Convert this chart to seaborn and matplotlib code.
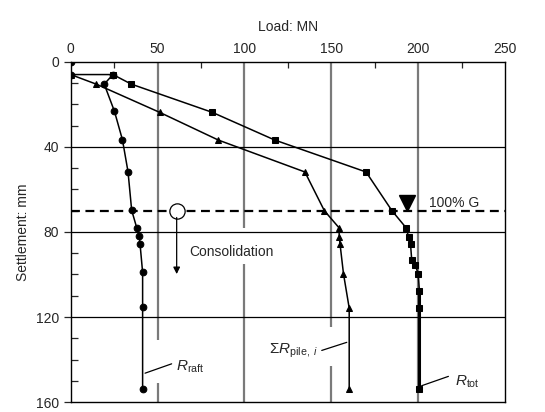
import matplotlib
matplotlib.use("Agg")
import matplotlib.pyplot as plt
import seaborn as sns

# load (MN) vs settlement (mm)
raft_load = [0, 0, 24.3, 19.3, 25.2, 29.8, 33.0, 35.1, 38.0, 39.5, 39.9, 41.4, 41.4, 41.4]
raft_settle = [0, 6, 6, 10.5, 23.3, 36.7, 51.7, 69.8, 78.0, 82.0, 85.5, 99.0, 115.5, 153.9]

pile_load = [0, 14.7, 51.3, 85.0, 134.8, 146.0, 154.4, 154.6, 155.0, 157.0, 160.3, 160.3]
pile_settle = [6, 10.5, 23.8, 36.8, 51.8, 70.0, 78.0, 82.5, 85.5, 99.6, 115.8, 153.9]

tot_load = [24.3, 34.9, 81.6, 117.5, 170.0, 184.9, 193.0, 194.6, 195.6, 196.3, 198.3, 200.0, 200.7, 200.7, 200.7]
tot_settle = [6, 10.5, 23.8, 36.8, 51.8, 70.0, 78.0, 82.6, 85.8, 93.4, 95.6, 99.6, 107.7, 115.6, 153.9]

x_ticks = [0, 50, 100, 150, 200, 250]
y_ticks = [0, 40, 80, 120, 160]

sns.set_style("white")
plt.rcParams["font.family"] = ["Liberation Sans", "DejaVu Sans"]
plt.rcParams["mathtext.fontset"] = "custom"
plt.rcParams["mathtext.rm"] = "Liberation Sans"
plt.rcParams["mathtext.it"] = "Liberation Sans:italic"

fig = plt.figure(figsize=(5.45, 4.12), dpi=100)
ax = fig.add_axes([0.1297, 0.024, 0.797, 0.826])

# grid: gray verticals (with gaps around labels), black horizontals
gray = "#7a7a7a"
ax.vlines(50, 0, 130.7, color=gray, lw=1.6, zorder=1)
ax.vlines(50, 151, 160, color=gray, lw=1.6, zorder=1)
ax.vlines(100, 0, 78.2, color=gray, lw=1.6, zorder=1)
ax.vlines(100, 94.9, 160, color=gray, lw=1.6, zorder=1)
ax.vlines(150, 0, 124.9, color=gray, lw=1.6, zorder=1)
ax.vlines(150, 143.2, 160, color=gray, lw=1.6, zorder=1)
ax.vlines(200, 0, 160, color=gray, lw=1.6, zorder=1)
ax.hlines([40, 80, 120], 0, 250, color="black", lw=0.9, zorder=1)
ax.hlines(70, 0, 250, color="black", lw=1.6, linestyles=(0, (4, 2.5)), zorder=2)

sns.lineplot(x=pile_load, y=pile_settle, sort=False, estimator=None, ax=ax,
             color="black", lw=1.1, marker="^", markersize=4.5, markeredgecolor="black", zorder=3)
sns.lineplot(x=tot_load, y=tot_settle, sort=False, estimator=None, ax=ax,
             color="black", lw=1.1, marker="s", markersize=4.2, markeredgecolor="black", zorder=3)
sns.lineplot(x=raft_load, y=raft_settle, sort=False, estimator=None, ax=ax,
             color="black", lw=1.1, marker="o", markersize=4.8, markeredgecolor="black", zorder=4)
# heavier bottom stretch of R_tot
ax.plot([200.7, 200.7], [107.7, 153.9], color="black", lw=2.2, zorder=3)

# 100% G marker and consolidation note
ax.plot(193.4, 66.3, marker="v", markersize=11, color="black", zorder=5)
ax.text(206, 66.6, "100% G", fontsize=10, va="center", ha="left")
ax.plot(61, 70, marker="o", markersize=11, markerfacecolor="white",
        markeredgecolor="black", markeredgewidth=0.9, zorder=5)
ax.annotate("", xy=(61, 99.8), xytext=(61, 73.2),
            arrowprops=dict(arrowstyle="-|>", color="black", lw=0.9,
                            mutation_scale=10, shrinkA=0, shrinkB=0), zorder=5)
ax.text(68.5, 89.2, "Consolidation", fontsize=10, va="center", ha="left")

# series labels with leader lines
ax.plot([42.8, 58.1], [146.4, 142.0], color="black", lw=0.9)
ax.text(60.5, 143.2, r"$R_{\mathrm{raft}}$", fontsize=11, va="center", ha="left")
ax.plot([144.5, 158.9], [135.7, 131.9], color="black", lw=0.9)
ax.text(142.5, 136.0, r"$\Sigma R_{\mathrm{pile},\ i}$", fontsize=11, va="center", ha="right")
ax.plot([202.0, 217.4], [152.3, 147.9], color="black", lw=0.9)
ax.text(221, 150.3, r"$R_{\mathrm{tot}}$", fontsize=11, va="center", ha="left")

ax.set_xlim(0, 250)
ax.set_ylim(160, 0)
ax.xaxis.tick_top()
ax.xaxis.set_label_position("top")
ax.set_xticks(x_ticks)
ax.set_xticks([25, 75, 125, 175, 225], minor=True)
ax.set_yticks(y_ticks)
ax.set_yticks([10, 20, 30, 50, 60, 70, 90, 100, 110, 130, 140, 150], minor=True)
ax.tick_params(axis="x", which="major", length=0, pad=4, labelsize=10)
ax.tick_params(axis="x", which="minor", direction="in", length=4, width=0.9, top=True, bottom=False)
ax.tick_params(axis="y", which="major", direction="out", length=5, width=0.9, labelsize=10, left=True)
ax.tick_params(axis="y", which="minor", direction="in", length=5, width=0.9, left=True)
ax.set_xlabel("Load: MN", fontsize=10, labelpad=8)
ax.set_ylabel("Settlement: mm", fontsize=10, labelpad=4)
for s in ax.spines.values():
    s.set_color("black")
    s.set_linewidth(1.0)

fig.savefig("out.png", dpi=100)
